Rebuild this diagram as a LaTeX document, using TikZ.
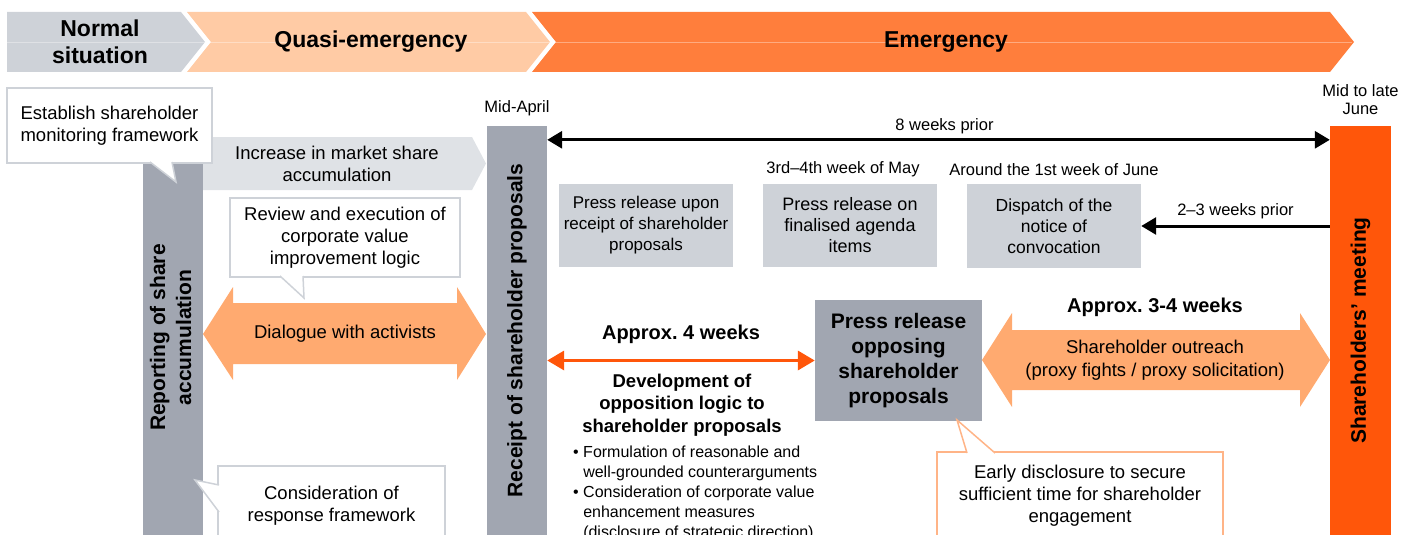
\documentclass[tikz,border=0pt]{standalone}
\usepackage{fontspec}
\setmainfont{Liberation Sans}
\usepackage{tikz}
\usetikzlibrary{arrows.meta,positioning}
\frenchspacing

\definecolor{headgray}{RGB}{206,210,216}
\definecolor{headpeach}{RGB}{255,203,165}
\definecolor{headorange}{RGB}{255,126,60}
\definecolor{bargray}{RGB}{161,166,177}
\definecolor{boxgray}{RGB}{206,210,216}
\definecolor{arrowgray}{RGB}{223,226,230}
\definecolor{peach}{RGB}{255,170,112}
\definecolor{meetorange}{RGB}{255,86,10}
\definecolor{noteorange}{RGB}{255,180,135}

\begin{document}
\begin{tikzpicture}[x=1pt, y=-1pt,
        every node/.style={align=center, inner sep=0pt, font=\fontsize{18.5}{22}\selectfont},
        hdrtext/.style={font=\bfseries\fontsize{23}{27}\selectfont},
        barbox/.style={minimum width=60pt, font=\bfseries\fontsize{21}{26}\selectfont},
        graybox/.style={fill=boxgray, minimum width=174pt, minimum height=83pt, font=\fontsize{18}{21}\selectfont},
        note/.style={draw=boxgray, line width=1.5pt, fill=white},
        notetail/.style={draw=boxgray, line width=1.5pt, fill=white},
        smalltext/.style={font=\fontsize{16.5}{17.5}\selectfont},
        boldlabel/.style={font=\bfseries\fontsize{20}{24}\selectfont},
        timeline/.style={line width=3pt, >={Triangle[length=15pt,width=17pt]}}]

    \useasboundingbox (0,0) rectangle (1414,535);
    \clip (0,0) rectangle (1414,535);

    \fill[headgray] (7,12) -- (181,12) -- (205,42) -- (181,72) -- (7,72) -- cycle;
    \fill[headpeach] (187,12) -- (526,12) -- (550,42) -- (526,72) -- (187,72) -- (211,42) -- cycle;
    \fill[headorange] (532,12) -- (1330,12) -- (1354,42) -- (1330,72) -- (532,72) -- (556,42) -- cycle;
    \draw[white, opacity=0.35] (7,42) -- (1352,42);
    \node[hdrtext] (normal) at (100,42) {Normal\\situation};
    \node[hdrtext] (quasi) at (371,42) {Quasi-emergency};
    \node[hdrtext] (emergency) at (946,42) {Emergency};

    \fill[arrowgray] (203,137) -- (472,137) -- (486,163.5) -- (472,190) -- (203,190) -- cycle;
    \node (increase) at (337,164) {Increase in market share\\accumulation};

    \node[barbox, fill=bargray, minimum height=395pt] (report) at (173,337.5)
        {\rotatebox{90}{\begin{tabular}{@{}c@{}}Reporting of share\\accumulation\end{tabular}}};
    \node[barbox, fill=bargray, minimum height=409pt] (receipt) at (517,330.5)
        {\rotatebox{90}{Receipt of shareholder proposals}};
    \node[barbox, fill=meetorange, minimum width=61pt, minimum height=409pt] (meeting) at (1360.5,330.5)
        {\rotatebox{90}{Shareholders’ meeting}};
    \node[smalltext, above=10pt of receipt] (april) {Mid-April};
    \node[smalltext, above=11pt of meeting] (june) {Mid to late\\June};

    \fill[peach] (203,334) -- (233,287) -- (233,303) -- (457,303) -- (457,287) -- (486,334)
        -- (457,380) -- (457,364) -- (233,364) -- (233,380) -- cycle;
    \node (dialogue) at (345,334) {Dialogue with activists};
    \fill[peach] (982,360) -- (1012,313) -- (1012,330) -- (1300,330) -- (1300,313) -- (1330,360)
        -- (1300,407) -- (1300,390) -- (1012,390) -- (1012,407) -- cycle;
    \node[font=\fontsize{18.5}{23}\selectfont] (outreach) at (1155,360) {Shareholder outreach\\(proxy fights / proxy solicitation)};
    \node[boldlabel] (threefour) at (1155,307) {Approx. 3-4 weeks};

    \node[graybox, font=\fontsize{17}{21}\selectfont] (prreceipt) at (646,225.5) {Press release upon\\receipt of shareholder\\proposals};
    \node[graybox] (pragenda) at (850,225.5) {Press release on\\finalised agenda\\items};
    \node[graybox, minimum height=84pt, font=\fontsize{17.5}{21}\selectfont] (dispatch) at (1054,226) {Dispatch of the\\notice of\\convocation};
    \node[smalltext, above=7pt of pragenda, xshift=-7pt] (maylabel) {3rd--4th week of May};
    \node[smalltext, above=8pt of dispatch] (firstjune) {Around the 1st week of June};

    \node[fill=bargray, minimum width=167pt, minimum height=121pt, font=\bfseries\fontsize{21}{25}\selectfont] (oppose) at (898.5,360.5)
        {Press release\\opposing\\shareholder\\proposals};

    \draw[timeline, <->] ([yshift=-14pt]receipt.north east) -- ([yshift=-14pt]meeting.north west)
        node[smalltext, midway, above=4pt, xshift=6pt] (eightweeks) {8 weeks prior};
    \draw[timeline, <-] (dispatch.east) -- (dispatch.east -| meeting.west)
        node[smalltext, midway, above=6pt] (twothree) {2--3 weeks prior};
    \draw[line width=3.5pt, meetorange, >={Triangle[length=17pt,width=19pt]}, <->] (oppose.west -| receipt.east) -- (oppose.west);

    \node[boldlabel] (fourweeks) at (681,334) {Approx. 4 weeks};
    \node[font=\bfseries\fontsize{18.5}{22.5}\selectfont] (develop) at (682,405)
        {Development of\\opposition logic to\\shareholder proposals};
    \node[anchor=north west, align=left, font=\fontsize{16}{20}\selectfont] (measures) at (573,446)
        {\textbullet\ Formulation of reasonable and\\
         \phantom{\textbullet\ }well-grounded counterarguments\\
         \textbullet\ Consideration of corporate value\\
         \phantom{\textbullet\ }enhancement measures\\
         \phantom{\textbullet\ }(disclosure of strategic direction)};

    \node[note, minimum width=205pt, minimum height=75pt] (monitor) at (109.5,125.5) {Establish shareholder\\monitoring framework};
    \filldraw[notetail] (150,162) -- (176,182) -- (172,162);
    \node[note, minimum width=230pt, minimum height=79pt] (review) at (345,237.5) {Review and execution of\\corporate value\\improvement logic};
    \filldraw[notetail] (280,276) -- (304,298) -- (303,276);
    \node[note, minimum width=227pt, minimum height=79pt] (consider) at (331.5,505.5) {Consideration of\\response framework};
    \filldraw[notetail] (219,485) -- (195,480) -- (219,512);
    \node[note, draw=noteorange, minimum width=286pt, minimum height=88pt] (early) at (1080,496)
        {Early disclosure to secure\\sufficient time for shareholder\\engagement};
    \filldraw[notetail, draw=noteorange] (967,453) -- (957,420) -- (995,453);
\end{tikzpicture}
\end{document}
